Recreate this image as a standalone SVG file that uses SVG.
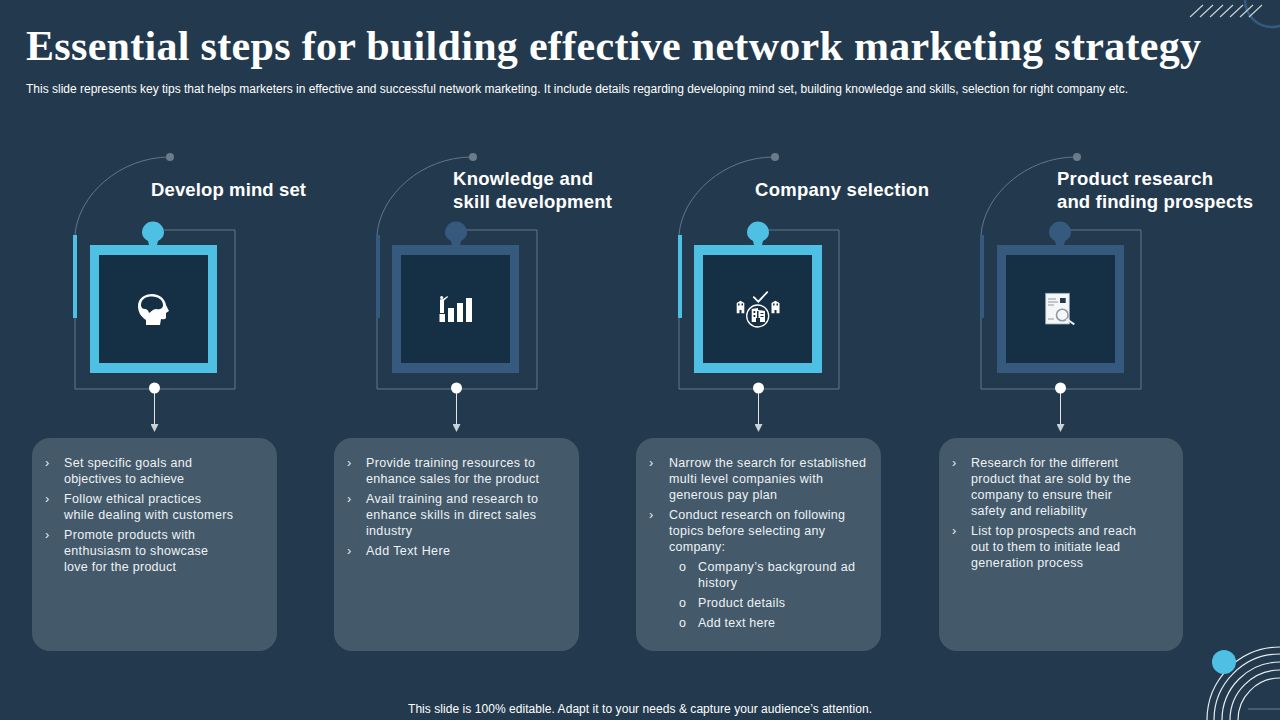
<svg xmlns="http://www.w3.org/2000/svg" xmlns:xlink="http://www.w3.org/1999/xlink" width="1280" height="720" viewBox="0 0 1280 720">
<style>
text{font-family:"Liberation Sans",Arial,sans-serif;fill:#eef2f5}
.title{font-family:"Liberation Serif","Times New Roman",serif;font-weight:700;font-size:42px;fill:#fff}
.sub{font-size:12px;fill:#fff}
.foot{font-size:12px;fill:#fff}
.head{font-size:18.5px;font-weight:700;fill:#fff}
.b{font-size:12.5px}
.thin{fill:none;stroke:#62768a;stroke-width:1}
.card{fill:#445a6b}
.inner{fill:#152f45}
.cy{fill:#4ec0e4}
.bl{fill:#36597e}
.w{fill:#fff}
.dot{fill:#6a7c8c}
.conn{stroke:#dfe5ea;stroke-width:1;fill:none}
</style>
<defs>
<marker id="arr" markerWidth="8" markerHeight="8" refX="0" refY="4" orient="auto" markerUnits="userSpaceOnUse" viewBox="0 0 8 8"><path d="M0 0L8 4L0 8Z" fill="#c9d1d8"/></marker>
<path id="frame" class="thin" d="M170 157C120 157 78 195 75 235V389H235V230H164"/>
</defs>
<rect width="1280" height="720" fill="#233a4e"/>
<g id="decor">
<circle cx="1272" cy="0" r="27" fill="none" stroke="#36597e" stroke-width="2.5"/>
<path d="M1190 17L1203 5M1200 17L1213 5M1210 17L1223 5M1220 17L1233 5M1230 17L1243 5M1240 17L1253 5M1249 17L1262 5" stroke="#c6d0d8" stroke-width="1.2" fill="none"/>
<g fill="none" stroke="#e8edf0" stroke-width="1.2">
<circle cx="1280" cy="720" r="73"/><circle cx="1280" cy="720" r="66"/><circle cx="1280" cy="720" r="58"/><circle cx="1280" cy="720" r="50"/><circle cx="1280" cy="720" r="42"/>
</g>
<path d="M1248 709H1280" stroke="#6f8293"/>
<circle cx="1224" cy="662" r="12" class="cy"/>
</g>
<text class="title" x="26" y="60" textLength="1175" lengthAdjust="spacing">Essential steps for building effective network marketing strategy</text>
<text class="sub" x="26" y="93" textLength="1102" lengthAdjust="spacing">This slide represents key tips that helps marketers in effective and successful network marketing. It include details regarding developing mind set, building knowledge and skills, selection for right company etc.</text>
<g id="connectors">
<path class="conn" d="M154.500 388V424" marker-end="url(#arr)"/>
<path class="conn" d="M456.500 388V424" marker-end="url(#arr)"/>
<path class="conn" d="M758.500 388V424" marker-end="url(#arr)"/>
<path class="conn" d="M1060.500 388V424" marker-end="url(#arr)"/>
</g>
<g id="node-1">
<use xlink:href="#frame" href="#frame"/>
<circle cx="170" cy="157" r="4" class="dot"/>
<rect x="73" y="235" width="4" height="83" class="cy"/>
<path class="cy" d="M149 245L148 241C144 239 142 236 142 232.500A11 11 0 0 1 164 232.500C164 236 162 239 158 241L157 245Z"/>
<rect x="90" y="245" width="127" height="128" class="cy"/>
<rect x="99" y="255" width="109" height="108" class="inner"/>
<circle cx="154.500" cy="388" r="5.500" class="w"/>
<path class="w" d="M146 325V320C140 316 138 311 138 306C138 298 145 294 152 294C160 294 165 299 166 305L169 311L166 313V318Q165 320 161 319L160 325Z"/>
<path class="inner" d="M141 305C141 299 146 296.500 152 296.500C158 296.500 163 300 163 305C163 309 159 310 156 309C153 309 151 312 149 313C148 310 147 309 145 309C142 309 141 307 141 305Z"/>
<text class="head" x="151" y="196" textLength="155">Develop mind set</text>
<rect class="card" x="32" y="438" width="245" height="213" rx="18"/>
<text class="b" x="45" y="467">›</text><text class="b" x="64" y="467" textLength="128">Set specific goals and</text>
<text class="b" x="64" y="483" textLength="120">objectives to achieve</text>
<text class="b" x="45" y="503">›</text><text class="b" x="64" y="503" textLength="137">Follow ethical practices</text>
<text class="b" x="64" y="519" textLength="169">while dealing with customers</text>
<text class="b" x="45" y="539">›</text><text class="b" x="64" y="539" textLength="131">Promote products with</text>
<text class="b" x="64" y="555" textLength="144">enthusiasm to showcase</text>
<text class="b" x="64" y="571" textLength="112">love for the product</text>
</g>
<g id="node-2">
<use xlink:href="#frame" href="#frame" x="302"/>
<circle cx="473" cy="157" r="4" class="dot"/>
<rect x="376" y="235" width="4" height="83" class="bl"/>
<path class="bl" d="M452 245L451 241C447 239 445 236 445 232.500A11 11 0 0 1 467 232.500C467 236 465 239 461 241L460 245Z"/>
<rect x="392" y="245" width="127" height="128" class="bl"/>
<rect x="401" y="255" width="109" height="108" class="inner"/>
<circle cx="456.500" cy="388" r="5.500" class="w"/>
<path class="w" d="M439.500 314H445V322H439.500ZM448 308H454V322H448ZM457 303H463V322H457ZM466 298H472V322H466Z"/>
<circle cx="441.700" cy="297.500" r="1.600" class="w"/>
<path class="w" d="M440 299.500L443 299L447.500 296L448 297L444 300.500V313H440Z"/>
<text class="head" x="453" y="185" textLength="140">Knowledge and</text>
<text class="head" x="453" y="208" textLength="159">skill development</text>
<rect class="card" x="334" y="438" width="245" height="213" rx="18"/>
<text class="b" x="347" y="467">›</text><text class="b" x="366" y="467" textLength="169">Provide training resources to</text>
<text class="b" x="366" y="483" textLength="173">enhance sales for the product</text>
<text class="b" x="347" y="503">›</text><text class="b" x="366" y="503" textLength="172">Avail training and research to</text>
<text class="b" x="366" y="519" textLength="170">enhance skills in direct sales</text>
<text class="b" x="366" y="535" textLength="46">industry</text>
<text class="b" x="347" y="555">›</text><text class="b" x="366" y="555" textLength="84">Add Text Here</text>
</g>
<g id="node-3">
<use xlink:href="#frame" href="#frame" x="604"/>
<circle cx="775" cy="157" r="4" class="dot"/>
<rect x="678" y="235" width="4" height="83" class="cy"/>
<path class="cy" d="M754 245L753 241C749 239 747 236 747 232.500A11 11 0 0 1 769 232.500C769 236 767 239 763 241L762 245Z"/>
<rect x="694" y="245" width="128" height="128" class="cy"/>
<rect x="703" y="255" width="109" height="108" class="inner"/>
<circle cx="758.500" cy="388" r="5.500" class="w"/>
<circle cx="757.700" cy="316" r="11" fill="none" stroke="#fff" stroke-width="1.300"/>
<path d="M753.300 296.700L758.300 301.700L767.700 291.700" fill="none" stroke="#fff" stroke-width="1.800"/>
<path class="w" d="M736.700 313.300V303L740.500 300.700L744.300 303V313.300H741.500V310H739.500V313.300ZM771.500 313.300V303L775.300 300.700L779.500 303V313.300H776.500V310H774.500V313.300ZM751.700 322V309L758 308V310L765 311V322H760V318H756V322Z"/>
<path class="inner" d="M738 303.500h1.500v2h-1.500zM741.500 303.500h1.500v2h-1.500zM773 303.500h1.500v2h-1.500zM776.500 303.500h1.500v2h-1.500zM753.500 311h1.800v2h-1.800zM753.500 315h1.800v2h-1.800zM757 311h1.500v10h-1.500zM760.500 313h3v1h-3zM760.500 316h3v1h-3z"/>
<text class="head" x="755" y="196" textLength="174">Company selection</text>
<rect class="card" x="636" y="438" width="245" height="213" rx="18"/>
<text class="b" x="649" y="467">›</text><text class="b" x="669" y="467" textLength="197">Narrow the search for established</text>
<text class="b" x="669" y="483" textLength="154">multi level companies with</text>
<text class="b" x="669" y="499" textLength="108">generous pay plan</text>
<text class="b" x="649" y="519">›</text><text class="b" x="669" y="519" textLength="176">Conduct research on following</text>
<text class="b" x="669" y="535" textLength="156">topics before selecting any</text>
<text class="b" x="669" y="551" textLength="56">company:</text>
<text class="b" x="679" y="571">o</text><text class="b" x="698" y="571" textLength="157">Company’s background ad</text>
<text class="b" x="698" y="587" textLength="39">history</text>
<text class="b" x="679" y="607">o</text><text class="b" x="698" y="607" textLength="87">Product details</text>
<text class="b" x="679" y="627">o</text><text class="b" x="698" y="627" textLength="77">Add text here</text>
</g>
<g id="node-4">
<use xlink:href="#frame" href="#frame" x="906"/>
<circle cx="1077" cy="157" r="4" class="dot"/>
<rect x="980" y="235" width="4" height="83" class="bl"/>
<path class="bl" d="M1056 245L1055 241C1051 239 1049 236 1049 232.500A11 11 0 0 1 1071 232.500C1071 236 1069 239 1065 241L1064 245Z"/>
<rect x="997" y="245" width="127" height="128" class="bl"/>
<rect x="1006" y="255" width="109" height="108" class="inner"/>
<circle cx="1060.500" cy="388" r="5.500" class="w"/>
<rect x="1045.700" y="293.300" width="23.600" height="30.700" fill="#f4f6f7" stroke="#9fb0bd" stroke-width=".8"/>
<rect x="1060" y="298" width="5.700" height="5" fill="#233a4e"/>
<path d="M1048 299H1056M1048 302H1058M1048 305H1054M1048 319H1054" stroke="#8d99a3" stroke-width="1"/>
<circle cx="1062.300" cy="315" r="5.800" fill="#f4f6f7" stroke="#8d99a3" stroke-width="1.600"/>
<path d="M1066.500 319L1074.300 324.300" stroke="#e8edf0" stroke-width="2"/>
<text class="head" x="1057" y="185" textLength="156">Product research</text>
<text class="head" x="1057" y="208" textLength="196">and finding prospects</text>
<rect class="card" x="939" y="438" width="244" height="213" rx="18"/>
<text class="b" x="952" y="467">›</text><text class="b" x="971" y="467" textLength="147">Research for the different</text>
<text class="b" x="971" y="483" textLength="160">product that are sold by the</text>
<text class="b" x="971" y="499" textLength="141">company to ensure their</text>
<text class="b" x="971" y="515" textLength="116">safety and reliability</text>
<text class="b" x="952" y="535">›</text><text class="b" x="971" y="535" textLength="165">List top prospects and reach</text>
<text class="b" x="971" y="551" textLength="149">out to them to initiate lead</text>
<text class="b" x="971" y="567" textLength="112">generation process</text>
</g>
<text class="foot" x="408" y="713" textLength="464">This slide is 100% editable. Adapt it to your needs &amp; capture your audience’s attention.</text>
</svg>
